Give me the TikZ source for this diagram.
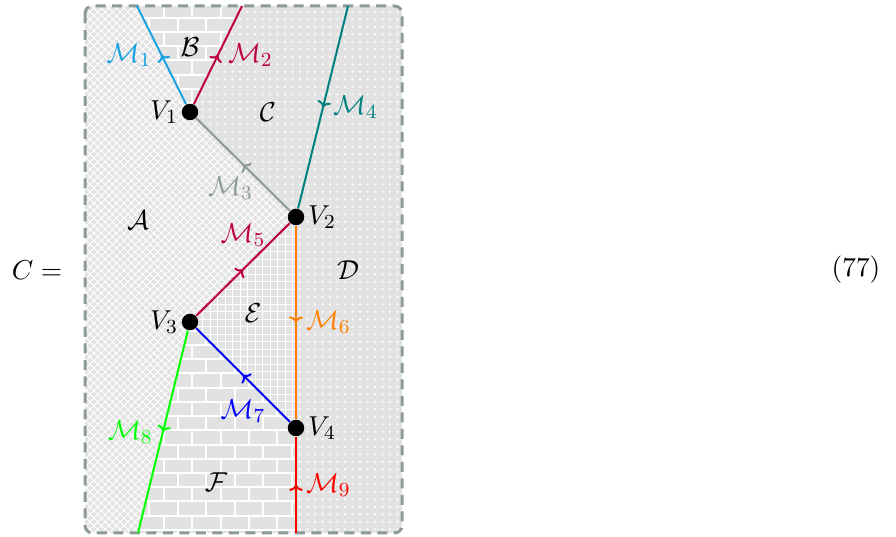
\documentclass[11pt,tikz,border=0pt]{standalone}
\usepackage{amsmath}
\usetikzlibrary{patterns, arrows.meta, decorations.markings, backgrounds, positioning}
\definecolor{framegray}{RGB}{140,155,152}
\definecolor{skyline}{RGB}{20,160,225}
\definecolor{basegray}{RGB}{226,226,226}

\begin{document}
\begin{tikzpicture}[x=0.4pt, y=-0.4pt,
  vtx/.style={circle, fill=black, inner sep=0pt, minimum size=6.6pt},
  region/.style={fill=basegray, postaction={pattern=#1, pattern color=white}},
  edge/.style={color=#1, line width=0.8pt, postaction={decorate},
    decoration={markings, mark=at position 0.5 with {\arrow{To[length=2.4pt, width=5.5pt]}}}},
]
  \useasboundingbox (0,0) rectangle (896,537);

  % vertices
  \node[vtx, label={[label distance=-2.5pt]left:$V_1$}]  (V1) at (190,112) {};
  \node[vtx, label={[label distance=-2.5pt]right:$V_2$}] (V2) at (296,217) {};
  \node[vtx, label={[label distance=-2.5pt]left:$V_3$}]  (V3) at (190,322) {};
  \node[vtx, label={[label distance=-2.5pt]right:$V_4$}] (V4) at (296,428) {};

  % free ends on the frame
  \coordinate (t1) at (137,6);
  \coordinate (t2) at (242,6);
  \coordinate (t4) at (348,6);
  \coordinate (b8) at (138,533);
  \coordinate (b9) at (296,533);

  % patterned regions
  \begin{scope}[on background layer]
    \clip[rounded corners=3pt] (85,6) rectangle (402,533);
    \path[region=crosshatch] (85,6) -- (t1) -- (V1.center) -- (V2.center) -- (V3.center) -- (b8) -- (85,533) -- cycle;
    \path[region=bricks] (t1) -- (V1.center) -- (t2) -- cycle;
    \path[region=dots] (t2) -- (V1.center) -- (V2.center) -- (t4) -- cycle;
    \path[region=dots] (t4) -- (402,6) -- (402,533) -- (b9) -- (V4.center) -- (V2.center) -- cycle;
    \path[region=grid] (V2.center) -- (V3.center) -- (V4.center) -- cycle;
    \path[region=bricks] (V3.center) -- (V4.center) -- (b9) -- (b8) -- cycle;
  \end{scope}

  % frame
  \draw[framegray, line width=1.2pt, dash pattern=on 4pt off 2.6pt, rounded corners=3pt]
    (85,6) rectangle (402,533);

  % edges
  \draw[edge=skyline] (V1) -- node[left] {$\mathcal{M}_1$} (t1);
  \draw[edge=purple] (V1) -- node[right] {$\mathcal{M}_2$} (t2);
  \draw[edge=framegray] (V2) -- node[below left=1pt and -8pt] {$\mathcal{M}_3$} (V1);
  \draw[edge=teal] (t4) -- node[right] {$\mathcal{M}_4$} (V2);
  \draw[edge=purple] (V3) -- node[above=5pt] {$\mathcal{M}_5$} (V2);
  \draw[edge=orange] (V2) -- node[right] {$\mathcal{M}_6$} (V4);
  \draw[edge=blue] (V4) -- node[below=6pt] {$\mathcal{M}_7$} (V3);
  \draw[edge=green] (V3) -- node[left] {$\mathcal{M}_8$} (b8);
  \draw[edge=red] (b9) -- node[right] {$\mathcal{M}_9$} (V4);

  % region names
  \node (regA) at (138,220) {$\mathcal{A}$};
  \node (regB) at (190,47)  {$\mathcal{B}$};
  \node (regC) at (268,112) {$\mathcal{C}$};
  \node (regD) at (348,270) {$\mathcal{D}$};
  \node (regE) at (253,313) {$\mathcal{E}$};
  \node (regF) at (216,482) {$\mathcal{F}$};

  % equation parts
  \node (lhs) at (37,270) {$C =$};
  \node (eqno) at (856,270) {(77)};
\end{tikzpicture}
\end{document}
